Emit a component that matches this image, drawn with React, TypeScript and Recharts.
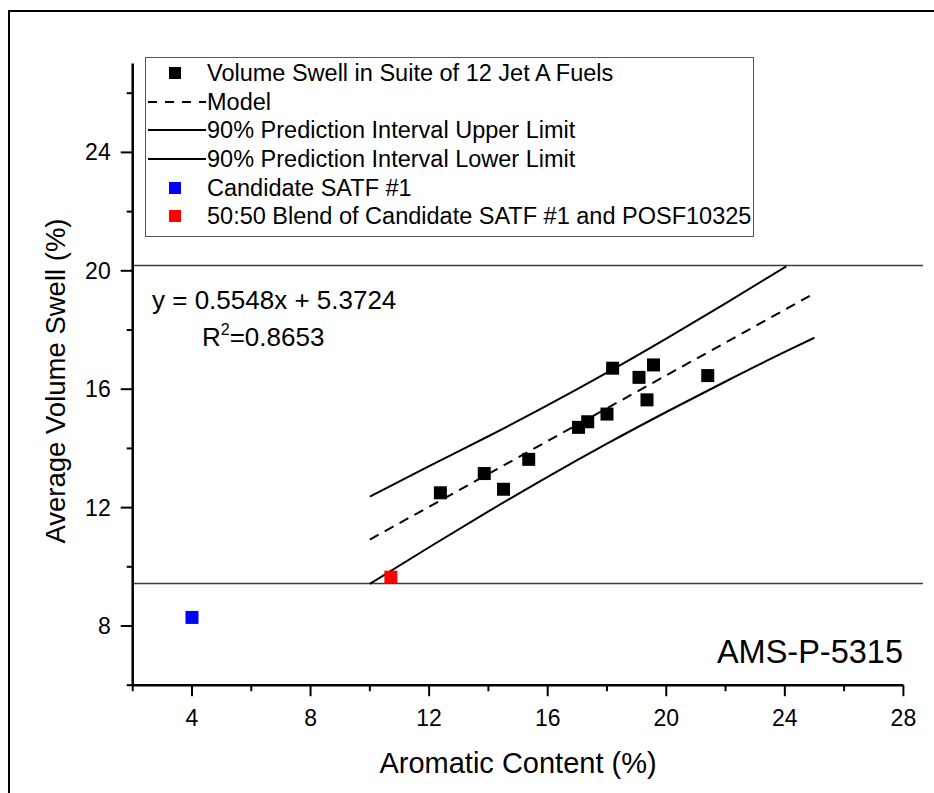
import { ComposedChart, XAxis, YAxis, Line, Scatter, ReferenceLine, Legend, Label } from "recharts"

const FONT = '"Liberation Sans", Arial, sans-serif'

// suite of 12 Jet A fuels
const fuelAromatics = [12.38, 13.86, 14.51, 15.36, 17.04, 17.35, 18.0, 18.19, 19.08, 19.57, 19.35, 21.4]
const fuelSwell = [12.5, 13.15, 12.62, 13.63, 14.71, 14.9, 15.16, 16.71, 16.4, 16.82, 15.64, 16.46]

// model y = 0.5548x + 5.3724
const modelX = [10, 25]
const modelY = [10.92, 19.24]

// 90% prediction interval
const upperX = [10, 12, 14, 16, 18, 20, 22, 24.05]
const upperY = [12.37, 13.4, 14.41, 15.46, 16.56, 17.71, 18.9, 20.15]
const lowerX = [10, 12, 14, 16, 18, 20, 22, 24, 25]
const lowerY = [9.42, 10.66, 11.87, 13.04, 14.16, 15.23, 16.26, 17.26, 17.74]

const candidateX = [4.0]
const candidateY = [8.29]
const blendX = [10.71]
const blendY = [9.65]

const limitLines = [20.18, 9.44]
const limitEndX = 28.66

const xTicks = [2, 4, 6, 8, 10, 12, 14, 16, 18, 20, 22, 24, 26, 28]
const yTicks = [6, 8, 10, 12, 14, 16, 18, 20, 22, 24, 26]

const legendLabels = [
  "Volume Swell in Suite of 12 Jet A Fuels",
  "Model",
  "90% Prediction Interval Upper Limit",
  "90% Prediction Interval Lower Limit",
  "Candidate SATF #1",
  "50:50 Blend of Candidate SATF #1 and POSF10325",
]

const zip = (xs: number[], ys: number[]) => xs.map((x, i) => ({ x, y: ys[i] }))

const fuelData = zip(fuelAromatics, fuelSwell)
const modelData = zip(modelX, modelY)
const upperData = zip(upperX, upperY)
const lowerData = zip(lowerX, lowerY)
const candidateData = zip(candidateX, candidateY)
const blendData = zip(blendX, blendY)

const squareShape = (color: string) => (props: any) => (
  <rect x={props.cx - 6.5} y={props.cy - 6.5} width={13} height={13} fill={color} />
)

const XTick = (props: any) => {
  const { x, y, payload } = props
  const major = payload.value % 4 === 0
  return (
    <g>
      <line x1={x} x2={x} y1={y} y2={y + (major ? 11 : 6)} stroke="#000" strokeWidth={2} />
      {major && (
        <text x={x} y={y + 41} textAnchor="middle" fontSize={23} fontFamily={FONT} fill="#000">
          {payload.value}
        </text>
      )}
    </g>
  )
}

const YTick = (props: any) => {
  const { x, y, payload } = props
  const major = payload.value % 4 === 0
  return (
    <g>
      <line x1={x} x2={x - (major ? 12 : 6)} y1={y} y2={y} stroke="#000" strokeWidth={2} />
      {major && (
        <text x={x - 22} y={y + 8} textAnchor="end" fontSize={23} fontFamily={FONT} fill="#000">
          {payload.value}
        </text>
      )}
    </g>
  )
}

const legendSymbol = (i: number) => {
  if (i === 1) return <line x1={2} x2={60} y1={14} y2={14} stroke="#000" strokeWidth={2} strokeDasharray="9 8" />
  if (i === 2 || i === 3) return <line x1={2} x2={60} y1={14} y2={14} stroke="#000" strokeWidth={2} />
  const color = i === 0 ? "#000" : i === 4 ? "#0000ff" : "#ff0000"
  return <rect x={23} y={8} width={12} height={12} fill={color} />
}

const renderLegend = () => (
  <div
    style={{
      boxSizing: "border-box",
      width: 609,
      height: 180,
      border: "1.5px solid #555",
      background: "#fff",
      paddingTop: 1,
      fontFamily: FONT,
      fontSize: 23.5,
      color: "#000",
    }}
  >
    {legendLabels.map((label, i) => (
      <div key={i} style={{ display: "flex", alignItems: "center", height: 28.6 }}>
        <svg width={61} height={28} style={{ flex: "none" }}>
          {legendSymbol(i)}
        </svg>
        <span style={{ whiteSpace: "nowrap", lineHeight: "28px" }}>{label}</span>
      </div>
    ))}
  </div>
)

export default function App() {
  return (
    <div
      style={{
        position: "fixed",
        left: 0,
        top: 0,
        width: 934,
        height: 793,
        overflow: "hidden",
        background: "#fff",
      }}
    >
      <div
        style={{
          position: "absolute",
          left: 8,
          top: 10,
          width: 1000,
          height: 1000,
          borderTop: "2px solid #000",
          borderLeft: "2px solid #000",
        }}
      />
      <ComposedChart
        width={934}
        height={793}
        margin={{ top: 63.6, right: 30.6, bottom: 0, left: 0 }}
        style={{ position: "absolute", left: 0, top: 0 }}
      >
        <XAxis
          type="number"
          dataKey="x"
          domain={[2, 28]}
          ticks={xTicks}
          interval={0}
          allowDataOverflow
          height={107.8}
          tickSize={0}
          tickMargin={0}
          tickLine={false}
          tick={<XTick />}
          axisLine={{ stroke: "#000", strokeWidth: 2.5 }}
        >
          <Label
            content={(p: any) => {
              const vb = p.viewBox
              return (
                <text x={vb.x + vb.width / 2} y={vb.y + 88} textAnchor="middle" fontSize={29} fontFamily={FONT} fill="#000">
                  Aromatic Content (%)
                </text>
              )
            }}
          />
        </XAxis>
        <YAxis
          type="number"
          dataKey="y"
          domain={[6, 27]}
          ticks={yTicks}
          interval={0}
          allowDataOverflow
          width={132.7}
          tickSize={0}
          tickMargin={0}
          tickLine={false}
          tick={<YTick />}
          axisLine={{ stroke: "#000", strokeWidth: 2.5 }}
        >
          <Label
            content={() => (
              <text x={65} y={381} transform="rotate(-90, 65, 381)" textAnchor="middle" fontSize={27.5} fontFamily={FONT} fill="#000">
                Average Volume Swell (%)
              </text>
            )}
          />
        </YAxis>

        {limitLines.map((v) => (
          <ReferenceLine
            key={v}
            segment={[{ x: 2, y: v }, { x: limitEndX, y: v }]}
            ifOverflow="visible"
            stroke="#3a3a3a"
            strokeWidth={1.5}
          />
        ))}

        <Line data={modelData} dataKey="y" type="linear" stroke="#000" strokeWidth={2} strokeDasharray="10 7" dot={false} activeDot={false} isAnimationActive={false} />
        <Line data={upperData} dataKey="y" type="monotone" stroke="#000" strokeWidth={2} dot={false} activeDot={false} isAnimationActive={false} />
        <Line data={lowerData} dataKey="y" type="monotone" stroke="#000" strokeWidth={2} dot={false} activeDot={false} isAnimationActive={false} />

        <Scatter data={fuelData} dataKey="y" shape={squareShape("#000")} isAnimationActive={false} />
        <Scatter data={candidateData} dataKey="y" shape={squareShape("#0000ff")} isAnimationActive={false} />
        <Scatter data={blendData} dataKey="y" shape={squareShape("#ff0000")} isAnimationActive={false} />

        <text x={152} y={309} fontSize={26} fontFamily={FONT} fill="#000">
          y = 0.5548x + 5.3724
        </text>
        <text x={202} y={346} fontSize={26} fontFamily={FONT} fill="#000">
          R<tspan fontSize={16} dy={-11}>2</tspan>
          <tspan dy={11}>=0.8653</tspan>
        </text>
        <text x={903} y={663} textAnchor="end" fontSize={32.5} fontFamily={FONT} fill="#000">
          AMS-P-5315
        </text>

        <Legend
          content={renderLegend}
          layout="horizontal"
          verticalAlign="middle"
          align="center"
          wrapperStyle={{ left: 145, top: 57, width: 609, height: 180 }}
        />
      </ComposedChart>
    </div>
  )
}
